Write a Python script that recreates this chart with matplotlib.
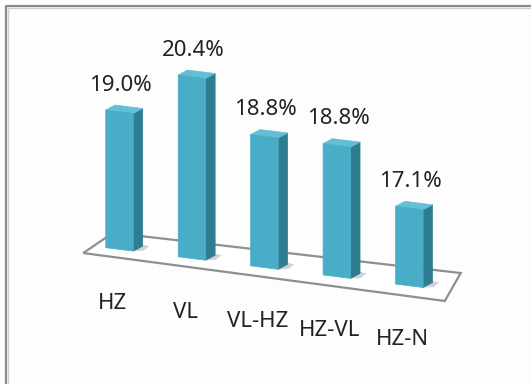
import numpy as np
import matplotlib.pyplot as plt
from matplotlib.lines import Line2D
from matplotlib.patches import Polygon
from matplotlib.transforms import Affine2D

# shares by category
categories = ['HZ', 'VL', 'VL-HZ', 'HZ-VL', 'HZ-N']
values = [19.0, 20.4, 18.8, 18.8, 17.1]

W, H = 531, 384
BASE = 14.63          # value at the floor of the column axis
X_MID = 264.4         # pixel centre of the middle column
Y_MID = 116.4         # pixel height (from bottom) of the middle column foot
PX_CAT = 72.45        # pixels between columns
PX_PCT = 31.5         # pixels per percent
DROP = 9.1            # floor drops this many pixels per column

BAR_W = 0.38
DX, DY = 0.13, 0.195  # depth offset of the side / top face (data units)

FRONT = '#4aadc7'
SIDE = '#2e7d91'
TOP = '#62bfd6'
TXT = '#222222'

plt.rcParams['font.family'] = ['Noto Sans', 'DejaVu Sans']

fig = plt.figure(figsize=(W / 100, H / 100), dpi=100)
fig.patch.set_facecolor('#fdfdfd')
ax = fig.add_axes([0, 0, 1, 1])
ax.axis('off')

# chart area frame, only the left and top edges fall inside the image
for off, col, lw in [(5.5, '#8a8a8a', 1.6), (7.5, '#cfcfcf', 1.0)]:
    fig.add_artist(Line2D([off / W, off / W, 1.2], [-0.2, 1 - off / H, 1 - off / H],
                          transform=fig.transFigure, color=col, lw=lw, zorder=0))

# floor tilts down to the right
k = DROP / PX_PCT
skew = Affine2D(np.array([[1, 0, 0], [-k, 1, 2 * k], [0, 0, 1]]))
tr = skew + ax.transData

floor = [(-0.50, BASE - 0.26), (4.49, BASE - 0.34), (4.71, BASE + 0.61), (-0.09, BASE + 0.50)]
ax.add_patch(Polygon(floor, closed=True, fc='white', ec='#8f8f8f', lw=1.6,
                     transform=tr, zorder=1))

x = np.arange(len(categories))
for xi, v in zip(x, values):
    r = xi + BAR_W / 2
    l = xi - BAR_W / 2
    # soft shadow on the floor
    ax.add_patch(Polygon([(r, BASE), (r + 0.14, BASE + 0.05), (r + 0.22, BASE + 0.22),
                          (r + 0.08, BASE + 0.27)], closed=True, fc='#b0b0b0', ec='none',
                         alpha=0.55, transform=tr, zorder=2))
    ax.add_patch(Polygon([(r, BASE), (r + DX, BASE + DY), (r + DX, v + DY), (r, v)],
                         closed=True, fc=SIDE, ec=SIDE, lw=0.5, transform=tr, zorder=3))
    ax.add_patch(Polygon([(l, v), (r, v), (r + DX, v + DY), (l + DX, v + DY)],
                         closed=True, fc=TOP, ec=TOP, lw=0.5, transform=tr, zorder=3))

bars = ax.bar(x, np.array(values) - BASE, bottom=BASE, width=BAR_W, color=FRONT,
              edgecolor=FRONT, lw=0.5, transform=tr, zorder=4)

for xi, v, c in zip(x, values, categories):
    ax.annotate(f'{v:.1f}%', xy=(xi, v), xycoords=tr, xytext=(1, 19),
                textcoords='offset points', ha='center', va='center',
                fontsize=16, color=TXT, zorder=5)
    ax.annotate(c, xy=(xi, BASE), xycoords=tr, xytext=(-5, -39),
                textcoords='offset points', ha='center', va='center',
                fontsize=16, color=TXT, zorder=5)

ax.set_xlim(2 - X_MID / PX_CAT, 2 + (W - X_MID) / PX_CAT)
ax.set_ylim(BASE - Y_MID / PX_PCT, BASE + (H - Y_MID) / PX_PCT)

fig.savefig('out.png', dpi=100)
